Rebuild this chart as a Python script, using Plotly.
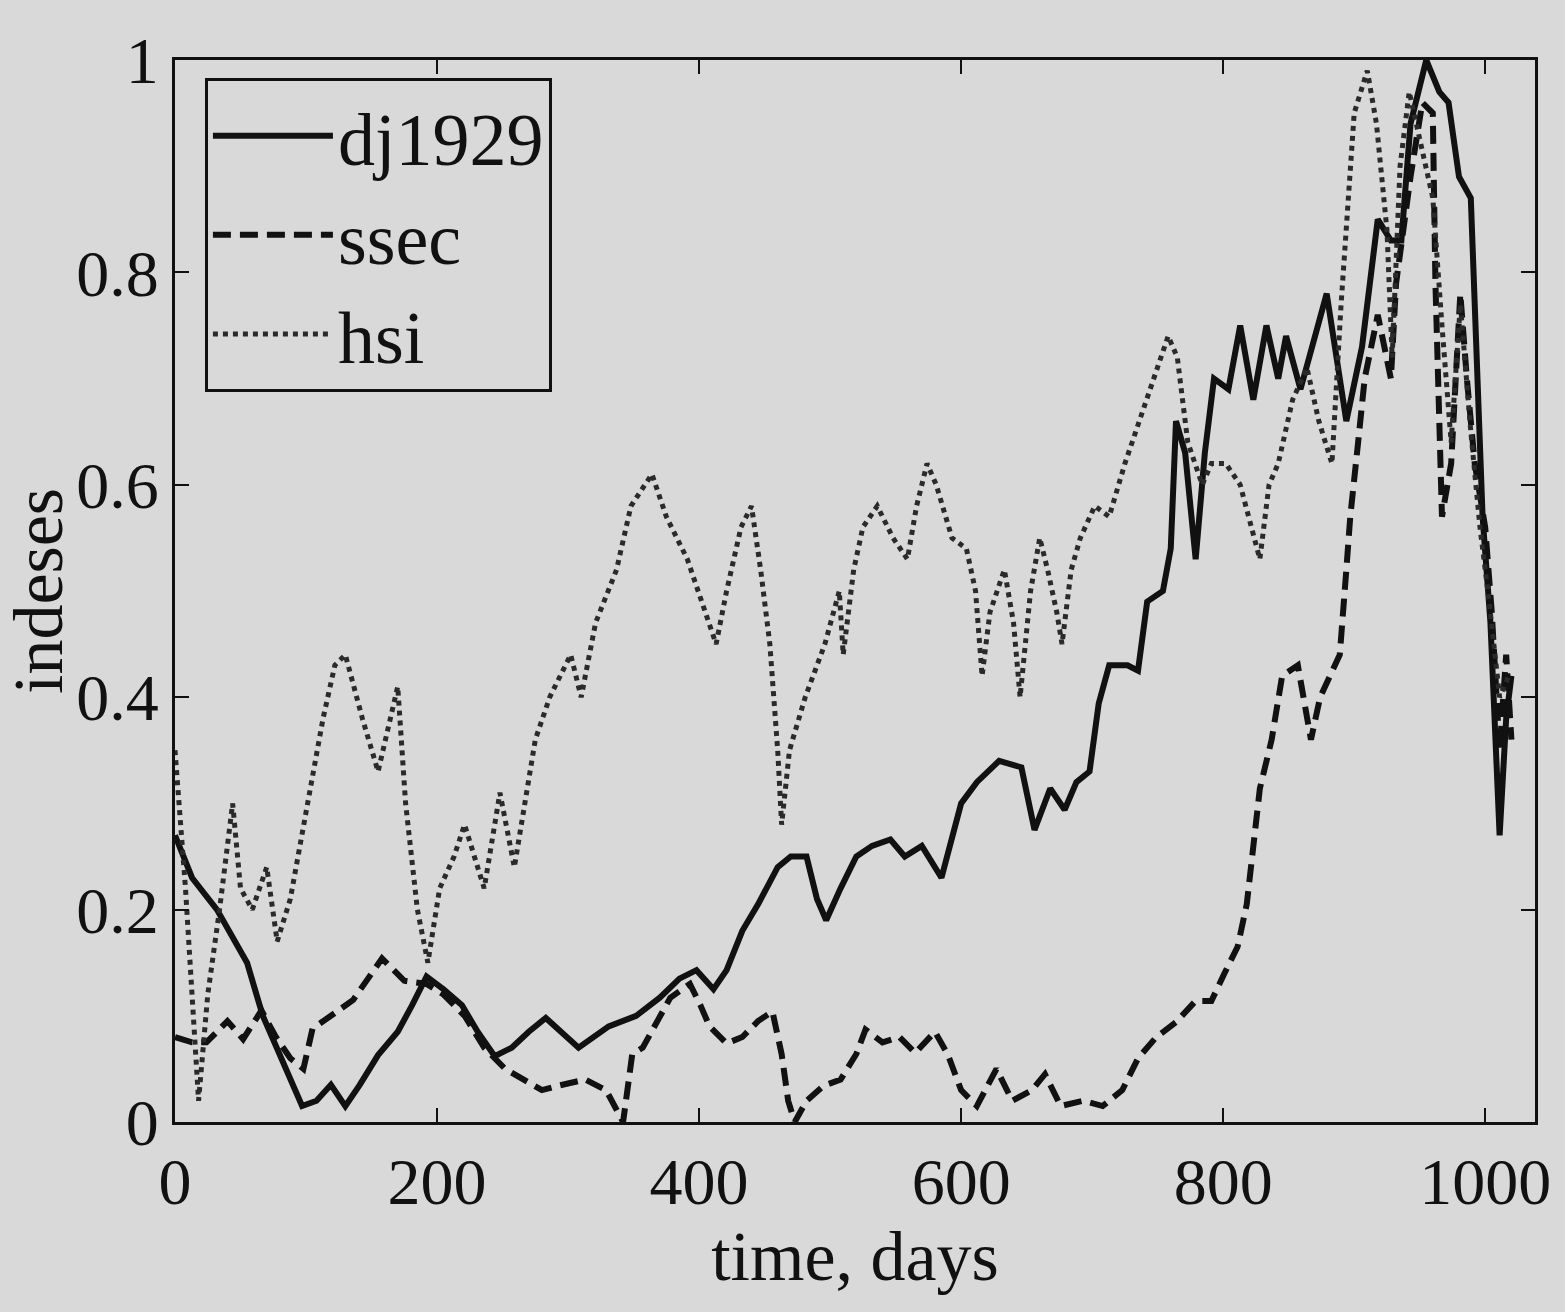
import plotly.graph_objects as go

# ---- data (day, normalised index) ----
dj_days = [0, 13, 32, 55, 67, 84, 97, 108, 119, 130, 141, 155, 170, 181, 192, 205, 219, 231, 244, 257,
           270, 283, 308, 331, 352, 370, 385, 398, 411, 421, 433, 445, 460, 470, 482, 490, 497, 508, 520, 532,
           546, 557, 570, 585, 600, 612, 629, 646, 656, 668, 679, 688, 698, 705, 713, 727, 735, 742, 754, 760,
           764, 771, 779, 786, 793, 804, 813, 823, 833, 842, 848, 859, 879, 894, 906, 918, 928, 936, 943, 955,
           965, 972, 980, 989, 993, 998, 1004, 1009, 1011, 1016, 1020]
dj_vals = [0.27, 0.23, 0.20, 0.15, 0.10, 0.05, 0.015, 0.02, 0.035, 0.015, 0.035, 0.063, 0.085, 0.11, 0.137, 0.125, 0.11, 0.085, 0.062, 0.07,
           0.085, 0.098, 0.07, 0.09, 0.10, 0.117, 0.135, 0.143, 0.125, 0.143, 0.18, 0.205, 0.24, 0.25, 0.25, 0.21, 0.19, 0.22, 0.25, 0.26,
           0.266, 0.25, 0.26, 0.23, 0.30, 0.32, 0.34, 0.334, 0.275, 0.314, 0.294, 0.32, 0.33, 0.394, 0.43, 0.43, 0.425, 0.49, 0.50, 0.54,
           0.66, 0.63, 0.53, 0.63, 0.70, 0.69, 0.75, 0.68, 0.75, 0.70, 0.74, 0.69, 0.78, 0.66, 0.73, 0.85, 0.83, 0.83, 0.94, 1.00,
           0.97, 0.96, 0.89, 0.87, 0.72, 0.57, 0.47, 0.32, 0.27, 0.38, 0.42]

ssec_days = [0, 13, 24, 40, 52, 66, 77, 88, 98, 105, 119, 136, 158, 175, 192, 205, 221, 236, 252, 267,
             280, 292, 313, 329, 342, 349, 357, 378, 393, 401, 408, 421, 433, 445, 456, 463, 468, 473, 482, 495,
             508, 520, 527, 540, 553, 565, 580, 590, 600, 612, 627, 639, 654, 664, 676, 693, 708, 723, 735, 749,
             764, 779, 791, 801, 811, 818, 823, 828, 837, 845, 857, 867, 874, 889, 894, 897, 903, 908, 918, 928,
             932, 943, 952, 960, 962, 967, 974, 981, 986, 992, 1000, 1005, 1011, 1016, 1020]
ssec_vals = [0.08, 0.075, 0.075, 0.095, 0.078, 0.105, 0.08, 0.06, 0.05, 0.088, 0.10, 0.115, 0.154, 0.133, 0.13, 0.12, 0.10, 0.07, 0.05, 0.04,
             0.03, 0.034, 0.04, 0.03, 0.0, 0.064, 0.07, 0.117, 0.13, 0.11, 0.09, 0.074, 0.08, 0.095, 0.104, 0.064, 0.02, 0.0, 0.02, 0.034,
             0.04, 0.064, 0.087, 0.075, 0.08, 0.065, 0.085, 0.063, 0.03, 0.015, 0.05, 0.02, 0.03, 0.045, 0.015, 0.02, 0.015, 0.03, 0.06, 0.08,
             0.094, 0.114, 0.114, 0.14, 0.165, 0.205, 0.265, 0.314, 0.36, 0.42, 0.43, 0.36, 0.40, 0.44, 0.52, 0.57, 0.64, 0.70, 0.76, 0.70,
             0.79, 0.89, 0.96, 0.95, 0.79, 0.57, 0.62, 0.78, 0.70, 0.62, 0.56, 0.48, 0.35, 0.44, 0.36]

hsi_days = [0, 8, 18, 25, 34, 44, 50, 59, 70, 78, 88, 101, 113, 122, 130, 143, 155, 170, 176, 185,
            193, 202, 213, 221, 236, 248, 259, 267, 275, 286, 302, 310, 321, 337, 348, 364, 375, 391, 402, 413,
            421, 432, 440, 447, 454, 460, 463, 469, 481, 496, 507, 510, 518, 525, 536, 548, 559, 566, 574, 581,
            593, 604, 611, 616, 622, 633, 640, 645, 653, 660, 666, 673, 677, 684, 691, 702, 713, 725, 736, 747,
            758, 765, 773, 784, 791, 802, 813, 828, 835, 842, 853, 864, 873, 883, 890, 900, 910, 917, 925, 929,
            935, 942, 949, 960, 967, 974, 981, 989, 996, 1003, 1011, 1018]
hsi_vals = [0.35, 0.22, 0.02, 0.12, 0.20, 0.30, 0.22, 0.20, 0.24, 0.17, 0.21, 0.30, 0.38, 0.43, 0.44, 0.38, 0.33, 0.41, 0.30, 0.20,
            0.15, 0.22, 0.25, 0.28, 0.22, 0.31, 0.24, 0.30, 0.36, 0.40, 0.44, 0.40, 0.47, 0.52, 0.58, 0.61, 0.57, 0.53, 0.49, 0.45,
            0.50, 0.56, 0.58, 0.52, 0.45, 0.35, 0.28, 0.35, 0.40, 0.45, 0.50, 0.44, 0.52, 0.56, 0.58, 0.55, 0.53, 0.58, 0.62, 0.60,
            0.55, 0.54, 0.50, 0.42, 0.48, 0.52, 0.47, 0.40, 0.50, 0.55, 0.52, 0.48, 0.45, 0.52, 0.55, 0.58, 0.57, 0.62, 0.66, 0.70,
            0.74, 0.72, 0.64, 0.60, 0.62, 0.62, 0.60, 0.53, 0.60, 0.62, 0.68, 0.71, 0.66, 0.62, 0.77, 0.95, 0.99, 0.94, 0.84, 0.72,
            0.90, 0.97, 0.93, 0.87, 0.75, 0.64, 0.77, 0.65, 0.56, 0.49, 0.40, 0.42]

x_ticks = [0, 200, 400, 600, 800, 1000]
y_ticks = [0, 0.2, 0.4, 0.6, 0.8, 1]
y_tick_text = ["0", "0.2", "0.4", "0.6", "0.8", "1"]

BG = "#d9d9d9"
FONT = "Liberation Serif"

fig = go.Figure()
fig.add_trace(go.Scatter(x=dj_days, y=dj_vals, mode="lines", name="dj1929",
                         line=dict(color="#111111", width=6, dash="solid")))
fig.add_trace(go.Scatter(x=ssec_days, y=ssec_vals, mode="lines", name="ssec",
                         line=dict(color="#111111", width=6, dash="18px,9px")))
fig.add_trace(go.Scatter(x=hsi_days, y=hsi_vals, mode="lines", name="hsi",
                         line=dict(color="#2a2a2a", width=5, dash="5px,5px")))

axis_common = dict(showline=True, linecolor="#111111", linewidth=3, mirror="ticks",
                   ticks="inside", ticklen=14, tickwidth=2, tickcolor="#111111",
                   showgrid=False, zeroline=False,
                   tickfont=dict(family=FONT, size=66, color="#111111"))

fig.update_layout(
    width=1565, height=1312,
    paper_bgcolor=BG, plot_bgcolor=BG,
    margin=dict(l=175, r=30, t=60, b=190),
    font=dict(family=FONT, color="#111111"),
    xaxis=dict(range=[0, 1038], tickvals=x_ticks, ticktext=[str(v) for v in x_ticks],
               title=dict(text="time, days", font=dict(family=FONT, size=70), standoff=8),
               **axis_common),
    yaxis=dict(range=[0, 1], tickvals=y_ticks, ticktext=y_tick_text,
               title=dict(text="indeses", font=dict(family=FONT, size=70), standoff=4),
               **axis_common),
    legend=dict(x=0.022, y=0.983, xanchor="left", yanchor="top",
                bgcolor=BG, bordercolor="#111111", borderwidth=3,
                font=dict(family=FONT, size=74, color="#111111"),
                itemwidth=120, tracegroupgap=0),
    showlegend=True,
)

fig.write_html("out.html",
               config={"displayModeBar": False},
               post_script="document.body.style.margin='0';document.body.style.background='#d9d9d9';")
